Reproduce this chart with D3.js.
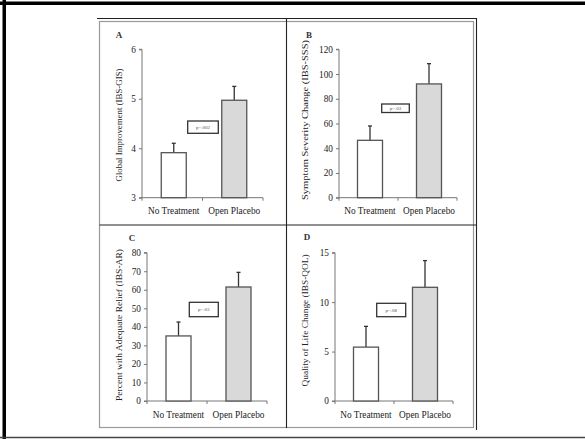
<!DOCTYPE html>
<html>
<head>
<meta charset="utf-8">
<script src="https://cdn.jsdelivr.net/npm/d3@7"></script>
<style>
  html, body { margin: 0; padding: 0; background: #fff; }
  svg { display: block; }
</style>
</head>
<body>
<div id="chart"></div>
<script>
// Data
const groups = ["No Treatment", "Open Placebo"];
const letters = ["A", "B", "C", "D"];
const titles = [
    "Global Improvement (IBS-GIS)",
    "Symptom Severity Change (IBS-SSS)",
    "Percent with Adequate Relief (IBS-AR)",
    "Quality of Life Change (IBS-QOL)"
];
const gisMean = [3.91, 4.97];
const gisSE = [0.19, 0.28];
const sssMean = [46.4, 92];
const sssSE = [11.6, 16.4];
const arMean = [35.1, 61.5];
const arSE = [7.5, 7.9];
const qolMean = [5.45, 11.5];
const qolSE = [2.1, 2.7];
const pLabels = ["p=.002", "p=.03", "p=.03", "p=.08"];
const yDomains = [[3, 6], [0, 120], [0, 80], [0, 15]];
const yTicks = [[3, 4, 5, 6], [0, 20, 40, 60, 80, 100, 120], [0, 10, 20, 30, 40, 50, 60, 70, 80], [0, 5, 10, 15]];

const means = [gisMean, sssMean, arMean, qolMean];
const errs = [gisSE, sssSE, arSE, qolSE];

// Panel layout (pixels)
const layout = [
    { x0: 142, x1: 263, y0: 49.3, y1: 197.7, lx: 119, ly: 35, tx: 119, ty: 125, tl: 113, box: [187.7, 121, 30.6, 12.3] },
    { x0: 339, x1: 457, y0: 49.3, y1: 197.7, lx: 309, ly: 35, tx: 305, ty: 120, tl: 160, box: [381.7, 104, 27.6, 8.5] },
    { x0: 147, x1: 267, y0: 252.7, y1: 401, lx: 132, ly: 238, tx: 119, ty: 325, tl: 152, box: [189.3, 302.3, 29, 14.4] },
    { x0: 335, x1: 453, y0: 252.7, y1: 401, lx: 307, ly: 237, tx: 305, ty: 320.5, tl: 132, box: [376.7, 303.3, 29, 13.4] }
];

const W = 585, H = 439;
const font = "'Liberation Serif', 'Times New Roman', serif";

const svg = d3.select("#chart")
    .append("svg")
    .attr("width", W)
    .attr("height", H);

// page frame
svg.append("rect").attr("x", 2.5).attr("y", 0).attr("width", 3.5).attr("height", H).attr("fill", "#000");
svg.append("rect").attr("x", 0).attr("y", 1.5).attr("width", W).attr("height", 3.5).attr("fill", "#000");
svg.append("line").attr("x1", 0).attr("x2", W).attr("y1", 437.5).attr("y2", 437.5)
    .attr("stroke", "#444").attr("stroke-width", 1.5);

// figure box
svg.append("rect")
    .attr("x", 99.5).attr("y", 21.5).attr("width", 374).attr("height", 406)
    .attr("fill", "none").attr("stroke", "#9a9a9a").attr("stroke-width", 1.2);

const gridLines = [
    [97, 18.5, 477, 18.5],
    [476.5, 18, 476.5, 430],
    [286.5, 18, 286.5, 428],
    [99.5, 225, 476.5, 225]
];
svg.selectAll("line.grid")
    .data(gridLines)
    .enter()
    .append("line")
    .attr("class", "grid")
    .attr("x1", (d) => d[0])
    .attr("y1", (d) => d[1])
    .attr("x2", (d) => d[2])
    .attr("y2", (d) => d[3])
    .attr("stroke", "#222")
    .attr("stroke-width", 1.1);

layout.forEach((L, i) => {
    const g = svg.append("g");

    const x = d3.scaleBand().domain(groups).range([L.x0, L.x1]);
    const y = d3.scaleLinear().domain(yDomains[i]).range([L.y1, L.y0]);

    // y axis
    const yAxis = g.append("g")
        .attr("transform", `translate(${L.x0},0)`)
        .call(d3.axisLeft(y).tickValues(yTicks[i]).tickSize(3).tickPadding(3).tickFormat(d3.format("d")));
    yAxis.selectAll("path, line").attr("stroke", "#777").attr("stroke-width", 1);
    yAxis.select("path").attr("d", `M-3,${L.y0}H0V${L.y1}H-3`);
    yAxis.selectAll("text")
        .attr("font-family", font)
        .attr("font-size", 9.3)
        .attr("fill", "#222");

    // x axis
    const xAxis = g.append("g")
        .attr("transform", `translate(0,${L.y1})`);
    xAxis.append("line")
        .attr("x1", L.x0).attr("x2", L.x1)
        .attr("stroke", "#777");
    xAxis.selectAll("line.tk")
        .data([L.x0, (L.x0 + L.x1) / 2, L.x1])
        .enter()
        .append("line")
        .attr("class", "tk")
        .attr("x1", (d) => d).attr("x2", (d) => d)
        .attr("y1", 0).attr("y2", 3)
        .attr("stroke", "#777");
    xAxis.selectAll("text")
        .data(groups)
        .enter()
        .append("text")
        .attr("x", (d) => x(d) + x.bandwidth() / 2 + 1.5)
        .attr("y", 16.5)
        .attr("text-anchor", "middle")
        .attr("font-family", font)
        .attr("font-size", 9.3)
        .attr("fill", "#222")
        .text((d) => d);

    // bars
    const bw = 25;
    const rows = groups.map((k, j) => ({ k, m: means[i][j], e: errs[i][j], j }));
    const cx = (d) => x(d.k) + x.bandwidth() / 2 + 1.5;

    // error bars (upper only)
    g.selectAll("line.err")
        .data(rows)
        .enter()
        .append("line")
        .attr("class", "err")
        .attr("x1", cx).attr("x2", cx)
        .attr("y1", (d) => y(d.m))
        .attr("y2", (d) => y(d.m + d.e))
        .attr("stroke", "#333")
        .attr("stroke-width", 1.3);
    g.selectAll("line.cap")
        .data(rows)
        .enter()
        .append("line")
        .attr("class", "cap")
        .attr("x1", (d) => cx(d) - 2).attr("x2", (d) => cx(d) + 2)
        .attr("y1", (d) => y(d.m + d.e))
        .attr("y2", (d) => y(d.m + d.e))
        .attr("stroke", "#333")
        .attr("stroke-width", 1.3);

    g.selectAll("rect.bar")
        .data(rows)
        .enter()
        .append("rect")
        .attr("class", "bar")
        .attr("x", (d) => cx(d) - bw / 2)
        .attr("y", (d) => y(d.m))
        .attr("width", bw)
        .attr("height", (d) => L.y1 - y(d.m))
        .attr("fill", (d) => (d.j === 0 ? "#fff" : "#d9d9d9"))
        .attr("stroke", "#555")
        .attr("stroke-width", 1.3);

    // p-value box
    g.append("rect")
        .attr("x", L.box[0]).attr("y", L.box[1])
        .attr("width", L.box[2]).attr("height", L.box[3])
        .attr("fill", "#fff")
        .attr("stroke", "#333")
        .attr("stroke-width", 1.3);
    g.append("text")
        .attr("x", L.box[0] + L.box[2] / 2)
        .attr("y", L.box[1] + L.box[3] / 2)
        .attr("dy", "0.35em")
        .attr("text-anchor", "middle")
        .attr("font-family", font)
        .attr("font-size", 5)
        .attr("fill", "#555")
        .text(pLabels[i]);

    // panel letter
    g.append("text")
        .attr("x", L.lx).attr("y", L.ly)
        .attr("dy", "0.35em")
        .attr("text-anchor", "middle")
        .attr("font-family", font)
        .attr("font-size", 9)
        .attr("font-weight", "bold")
        .attr("fill", "#333")
        .text(letters[i]);

    // y title
    g.append("text")
        .attr("transform", `translate(${L.tx},${L.ty}) rotate(-90)`)
        .attr("dy", "0.35em")
        .attr("text-anchor", "middle")
        .attr("font-family", font)
        .attr("font-size", 9)
        .attr("fill", "#222")
        .attr("textLength", L.tl)
        .attr("lengthAdjust", "spacingAndGlyphs")
        .text(titles[i]);
});
</script>
</body>
</html>
